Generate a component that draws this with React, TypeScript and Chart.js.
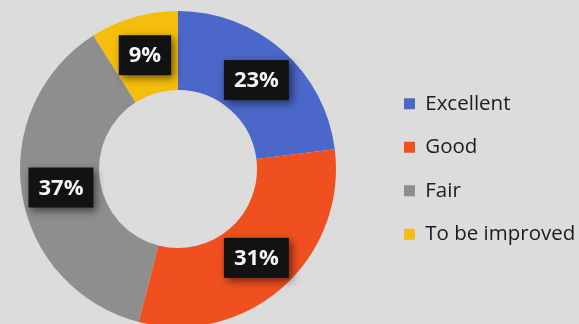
import React, { useEffect, useRef } from "react";
import { Chart, registerables } from "chart.js";

Chart.register(...registerables);

const categories = ["Excellent", "Good", "Fair", "To be improved"];
const shares = [23, 31, 37, 9];
const colors = ["#4a67c9", "#f0501f", "#8e8e8e", "#f5bd0c"];

const valueLabels = {
  id: "valueLabels",
  afterDatasetsDraw(chart: any) {
    const ctx = chart.ctx;
    const meta = chart.getDatasetMeta(0);
    const data = chart.data.datasets[0].data as number[];
    ctx.save();
    ctx.font = "bold 22px 'Open Sans'";
    ctx.textAlign = "center";
    ctx.textBaseline = "middle";
    meta.data.forEach((arc: any, i: number) => {
      const pos = arc.tooltipPosition();
      const text = data[i] + "%";
      const tw = ctx.measureText(text).width;
      const w = tw + 20;
      const h = 40;
      ctx.save();
      ctx.shadowColor = "rgba(0,0,0,0.55)";
      ctx.shadowBlur = 8;
      ctx.shadowOffsetX = 3;
      ctx.shadowOffsetY = 3;
      ctx.fillStyle = "#121212";
      ctx.fillRect(pos.x - w / 2, pos.y - h / 2, w, h);
      ctx.restore();
      ctx.fillStyle = "#f4f4f4";
      ctx.fillText(text, pos.x, pos.y + 1);
    });
    ctx.restore();
  },
};

export default function App() {
  const ref = useRef<HTMLCanvasElement>(null);
  useEffect(() => {
    if (!ref.current) return;
    const chart = new Chart(ref.current, {
      type: "doughnut",
      data: {
        labels: categories,
        datasets: [
          {
            data: shares,
            backgroundColor: colors,
            borderWidth: 0,
          },
        ],
      },
      options: {
        responsive: false,
        animation: false,
        cutout: "50%",
        layout: { padding: { left: 0, top: 11, bottom: 13, right: 20 } },
        plugins: {
          tooltip: { enabled: false },
          legend: {
            position: "right",
            maxWidth: 200,
            labels: {
              boxWidth: 11,
              boxHeight: 11,
              padding: 23,
              color: "#1c1c1c",
              font: { family: "'Open Sans'", size: 20.5 },
            },
          },
        },
      },
      plugins: [valueLabels],
    });
    return () => chart.destroy();
  }, []);
  return (
    <div
      style={{
        position: "fixed",
        left: 0,
        top: 0,
        width: 579,
        height: 324,
        overflow: "hidden",
        background: "#dcdcdc",
      }}
    >
      <canvas
        ref={ref}
        width={626}
        height={340}
        style={{ position: "absolute", left: -25, top: 0, width: 626, height: 340 }}
      />
    </div>
  );
}
